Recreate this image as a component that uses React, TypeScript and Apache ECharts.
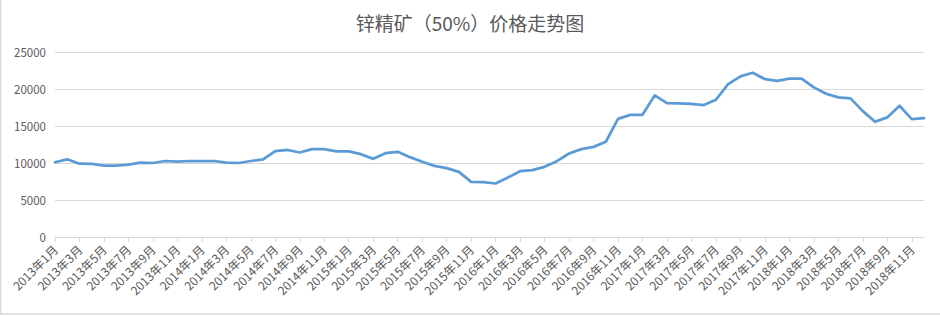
import React, { useEffect, useRef } from "react";
import * as echarts from "echarts";

const titleText = "锌精矿（50%）价格走势图";
const years = [2013, 2014, 2015, 2016, 2017, 2018];
const months = [1, 2, 3, 4, 5, 6, 7, 8, 9, 10, 11, 12];
const categories: string[] = [];
years.forEach((y) => months.forEach((m) => categories.push(`${y}年${m}月`)));

const prices = [
  10100, 10500, 9900, 9880, 9650, 9650, 9780, 10040, 10000, 10270, 10180, 10270,
  10270, 10270, 10050, 10000, 10270, 10500, 11600, 11760, 11420, 11870, 11870, 11560,
  11560, 11190, 10560, 11330, 11510, 10790, 10160, 9610, 9300, 8800, 7450, 7400,
  7230, 8040, 8890, 9030, 9480, 10250, 11280, 11870, 12180, 12860, 15970, 16510,
  16510, 19140, 18100, 18050, 18000, 17830, 18550, 20670, 21710, 22200, 21340, 21110,
  21390, 21390, 20220, 19360, 18860, 18730, 17010, 15570, 16160, 17730, 15930, 16070,
];

const yMin = 0;
const yMax = 25000;
const yStep = 5000;

export default function App() {
  const ref = useRef<HTMLDivElement>(null);
  useEffect(() => {
    if (!ref.current) return;
    const chart = echarts.init(ref.current, undefined, { renderer: "svg" });
    const font = '"Noto Sans CJK SC", "Noto Sans", sans-serif';
    chart.setOption({
      animation: false,
      backgroundColor: "#ffffff",
      title: {
        text: titleText,
        left: "center",
        top: 8,
        textStyle: { fontSize: 19, fontWeight: "normal", color: "#595959", fontFamily: font },
      },
      grid: { left: 55, right: 16, top: 52, bottom: 79, containLabel: false },
      xAxis: {
        type: "category",
        data: categories,
        boundaryGap: false,
        axisLine: { show: true, lineStyle: { color: "#D9D9D9", width: 1 } },
        axisTick: { show: true, interval: 1, length: 5, lineStyle: { color: "#D9D9D9" } },
        axisLabel: {
          interval: 1,
          rotate: 45,
          margin: 10,
          fontSize: 12,
          color: "#595959",
          fontFamily: font,
        },
        splitLine: { show: false },
      },
      yAxis: {
        type: "value",
        min: yMin,
        max: yMax,
        interval: yStep,
        axisLine: { show: false },
        axisTick: { show: false },
        axisLabel: {
          margin: 9,
          fontSize: 11.5,
          color: "#595959",
          fontFamily: font,
          formatter: (v: number) => String(v),
        },
        splitLine: { show: true, lineStyle: { color: "#D9D9D9", width: 1 } },
      },
      graphic: [
        { type: "line", shape: { x1: 0.5, y1: 0, x2: 0.5, y2: 314 }, style: { stroke: "#D9D9D9", lineWidth: 1.5 }, silent: true },
        { type: "line", shape: { x1: 0, y1: 314, x2: 940, y2: 314 }, style: { stroke: "#D9D9D9", lineWidth: 1.5 }, silent: true },
      ],
      series: [
        {
          type: "line",
          data: prices,
          showSymbol: false,
          symbol: "none",
          lineStyle: { color: "#5B9BD5", width: 2.75, cap: "round", join: "round" },
          itemStyle: { color: "#5B9BD5" },
        },
      ],
    });
    return () => chart.dispose();
  }, []);
  return (
    <div
      ref={ref}
      style={{ position: "fixed", left: 0, top: 0, width: 940, height: 316, background: "#fff" }}
    />
  );
}
